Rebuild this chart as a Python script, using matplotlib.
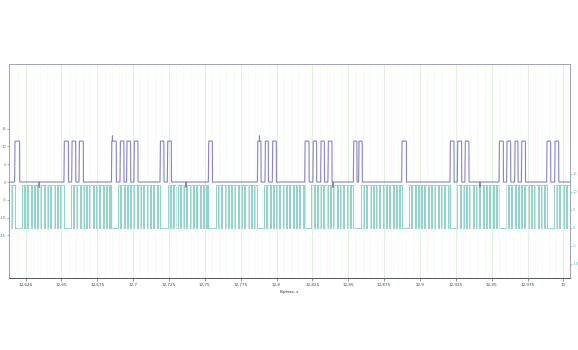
import numpy as np
import matplotlib
matplotlib.use("Agg")
import matplotlib.pyplot as plt
from matplotlib.ticker import FuncFormatter, MultipleLocator

plt.rcParams["axes.unicode_minus"] = False

# channel 1: control pulses (rise, fall) in seconds, level in V
pulse_rise = [12.6173, 12.6517, 12.6571, 12.6622, 12.6848, 12.6908, 12.6954, 12.7005,
              12.7187, 12.7238, 12.7524, 12.7866, 12.7919, 12.7970, 12.8196, 12.8253,
              12.8307, 12.8358, 12.8535, 12.8572, 12.8872, 12.9209, 12.9260, 12.9313,
              12.9551, 12.9604, 12.9660, 12.9707, 12.9883, 12.9939]
pulse_fall = [12.6208, 12.6548, 12.6599, 12.6652, 12.6882, 12.6935, 12.6982, 12.7033,
              12.7214, 12.7266, 12.7552, 12.7891, 12.7942, 12.7998, 12.8226, 12.8279,
              12.8333, 12.8386, 12.8560, 12.8597, 12.8905, 12.9237, 12.9290, 12.9341,
              12.9581, 12.9632, 12.9683, 12.9735, 12.9911, 12.9967]
pulse_high = 11.5
pulse_low = 0.0
spike_times = [12.6855, 12.7880]
spike_level = 13.0
dip_times = [12.6344, 12.7368, 12.8393, 12.9418]
dip_level = -1.5

# channel 2: PWM bursts (start, end) in seconds
burst_start = [12.6131, 12.6222, 12.6564, 12.6894, 12.7240, 12.7575, 12.7912,
               12.8242, 12.8586, 12.8923, 12.9260, 12.9597, 12.9932]
burst_end = [12.6173, 12.6515, 12.6848, 12.7184, 12.7524, 12.7866, 12.8196,
             12.8535, 12.8872, 12.9209, 12.9548, 12.9883, 13.0044]
pwm_period = 0.0023
pwm_drop = 0.0007
pwm_high = 12.0

t_min, t_max = 12.6134, 13.0046

# channel 1 trace
t1 = [t_min]
v1 = [pulse_low]
events = []
for r, f in zip(pulse_rise, pulse_fall):
    events.append((r, "pulse", f))
for s in spike_times:
    events.append((s, "spike", None))
for d in dip_times:
    events.append((d, "dip", None))
events.sort()
for t, kind, f in events:
    if kind == "pulse":
        t1 += [t, t + 0.0003, f - 0.0001, f, f + 0.0001]
        v1 += [pulse_low, pulse_high, pulse_high, pulse_high - 0.5, pulse_low]
    elif kind == "spike":
        t1 += [t, t + 0.00005, t + 0.0001]
        v1 += [pulse_high, spike_level, pulse_high]
    else:
        t1 += [t, t + 0.00005, t + 0.0001]
        v1 += [pulse_low, dip_level, pulse_low]
t1.append(t_max)
v1.append(pulse_low)
order = np.argsort(t1, kind="stable")
t1 = np.array(t1)[order]
v1 = np.array(v1)[order]

# channel 2 trace: idles high inside a burst with short drops to zero
t2 = [t_min]
v2 = [0.0]
for s, e in zip(burst_start, burst_end):
    k = s
    t2 += [k, k]
    v2 += [0.0, pwm_high]
    while k + pwm_period < e:
        k += pwm_period
        t2 += [k - pwm_drop, k - pwm_drop, k, k]
        v2 += [pwm_high, 0.0, 0.0, pwm_high]
    t2 += [e, e]
    v2 += [pwm_high, 0.0]
t2.append(t_max)
v2.append(0.0)

fig = plt.figure(figsize=(5.78, 3.5), dpi=100)
ax = fig.add_axes([9 / 578, 72 / 350, 561 / 578, 214 / 350])
ax2 = ax.twinx()

blue = "#8585c4"
teal = "#55b8b0"

ax.set_xlim(t_min, t_max)
ax.set_ylim(-27.0, 33.2)
ax2.set_ylim(-13.9, 45.5)

ax.xaxis.set_major_locator(MultipleLocator(0.025))
ax.xaxis.set_minor_locator(MultipleLocator(0.005))
ax.xaxis.set_major_formatter(FuncFormatter(lambda v, p: f"{v:.3f}".rstrip("0").rstrip(".").replace(".", ",")))
ax.grid(True, which="major", axis="x", color="#cfeecf", lw=0.5)
ax.grid(True, which="minor", axis="x", color="#eef8ee", lw=0.4)
ax.set_axisbelow(True)

ax2.plot(t2, v2, color=teal, lw=0.45)
ax.plot(t1, v1, color=blue, lw=0.8)
ax.set_zorder(ax2.get_zorder() + 1)
ax.patch.set_visible(False)

ax.set_yticks([-15, -10, -5, 0, 5, 10, 15])
ax2.set_yticks([-10, -5, 0, 5, 10, 15])
ax.tick_params(axis="y", labelsize=2.7, colors="#6a6aa8", length=1.5, width=0.4, pad=0.5)
ax2.tick_params(axis="y", labelsize=2.7, colors="#5dbdb5", length=1.5, width=0.4, pad=0.6)
ax.tick_params(axis="x", which="major", labelsize=3, colors="#444444", length=2, width=0.4, pad=1.5)
ax.tick_params(axis="x", which="minor", colors="#666666", length=1, width=0.3)

for a in (ax, ax2):
    for side in ("top", "right", "left"):
        a.spines[side].set_color("#9a9ab0")
        a.spines[side].set_linewidth(0.5)
    a.spines["bottom"].set_color("#555555")
    a.spines["bottom"].set_linewidth(0.6)

ax.set_xlabel("Время, s", fontsize=3, color="#333333", labelpad=2)

fig.savefig("out.png", dpi=100)
